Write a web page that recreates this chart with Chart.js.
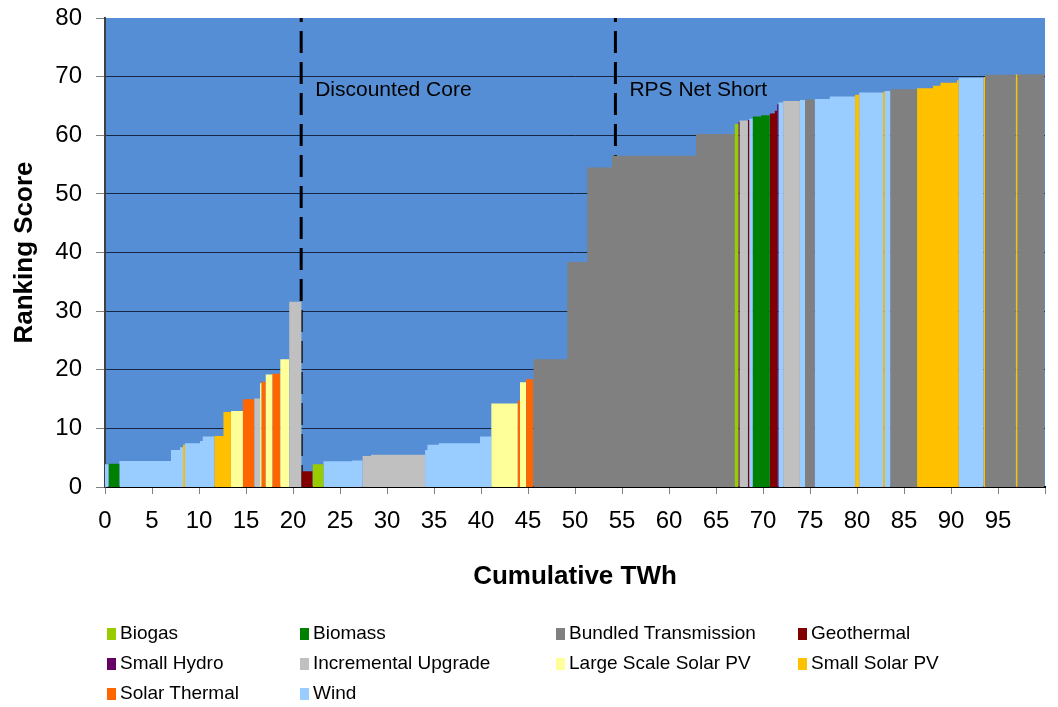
<!DOCTYPE html>
<html>
<head>
<meta charset="utf-8">
<script src="https://cdn.jsdelivr.net/npm/chart.js@4/dist/chart.umd.min.js"></script>
<style>
  body { margin: 0; background: #fff; font-family: "Liberation Sans", Arial, sans-serif; }
  #wrap { position: relative; width: 1058px; height: 707px; }
  #legend { position: absolute; left: 0; top: 0; width: 1058px; height: 707px; pointer-events: none; }
  .item { position: absolute; font-size: 19px; color: #000; white-space: nowrap; line-height: 20px; }
  .item span { display: inline-block; width: 9px; height: 12px; margin-right: 4px; vertical-align: -1px; }
</style>
</head>
<body>
<div id="wrap">
  <canvas id="chart" width="1058" height="707"></canvas>
  <div id="legend"></div>
</div>
<script>
// resource types, legend order
const types = ["Biogas", "Biomass", "Bundled Transmission", "Geothermal", "Small Hydro",
  "Incremental Upgrade", "Large Scale Solar PV", "Small Solar PV", "Solar Thermal", "Wind"];
const typeColors = ["#99cc00", "#008000", "#808080", "#800000", "#660066",
  "#c0c0c0", "#ffff99", "#ffc000", "#ff6600", "#99ccff"];

// supply curve: cumulative TWh at the end of each block, its ranking score and type
const segEnd = [0.38, 1.53, 7.02, 7.98, 8.3, 8.5, 10.1, 10.4, 11.65, 12.6,
  13.4, 14.67, 15.87, 16.5, 16.64, 17.1, 17.8, 18.65, 19.6, 20.9,
  22.08, 23.24, 26.3, 27.4, 28.3, 34.05, 34.3, 35.5, 39.9, 41.1,
  43.9, 44.15, 44.8, 45.57, 49.18, 51.3, 53.93, 62.87, 67.0, 67.4,
  67.5, 68.4, 68.53, 68.92, 69.8, 70.73, 71.26, 71.5, 71.66, 72.15,
  73.93, 74.47, 75.5, 77.1, 79.8, 80.23, 82.78, 82.96, 83.56, 86.39,
  88.09, 88.88, 90.64, 90.82, 93.48, 93.62, 96.88, 97.1, 99.94];
const segScore = [3.9, 3.95, 4.43, 6.3, 6.8, 7.2, 7.45, 7.85, 8.6, 8.7,
  12.8, 12.96, 14.96, 15.1, 17.7, 17.97, 19.2, 19.3, 21.8, 31.6,
  2.7, 3.9, 4.4, 4.5, 5.3, 5.5, 6.3, 7.2, 7.45, 8.6,
  14.25, 14.7, 17.85, 18.4, 21.8, 38.4, 54.5, 56.5, 60.2, 61.9,
  62.3, 62.5, 62.6, 62.8, 63.2, 63.4, 63.7, 64.2, 65.3, 65.6,
  65.85, 66.0, 66.1, 66.2, 66.6, 66.9, 67.3, 67.4, 67.55, 67.85,
  68.0, 68.45, 68.97, 69.4, 69.8, 69.9, 70.3, 70.35, 70.4];
const segType = ["Wind", "Biomass", "Wind", "Wind", "Wind", "Small Solar PV", "Wind", "Wind", "Wind", "Small Solar PV",
  "Small Solar PV", "Large Scale Solar PV", "Solar Thermal", "Incremental Upgrade", "Large Scale Solar PV", "Solar Thermal", "Large Scale Solar PV", "Solar Thermal", "Large Scale Solar PV", "Incremental Upgrade",
  "Geothermal", "Biogas", "Wind", "Wind", "Incremental Upgrade", "Incremental Upgrade", "Wind", "Wind", "Wind", "Wind",
  "Large Scale Solar PV", "Solar Thermal", "Large Scale Solar PV", "Solar Thermal", "Bundled Transmission", "Bundled Transmission", "Bundled Transmission", "Bundled Transmission", "Bundled Transmission", "Biogas",
  "Geothermal", "Incremental Upgrade", "Geothermal", "Wind", "Biomass", "Biomass", "Geothermal", "Geothermal", "Small Hydro", "Wind",
  "Incremental Upgrade", "Wind", "Bundled Transmission", "Wind", "Wind", "Small Solar PV", "Wind", "Small Solar PV", "Wind", "Bundled Transmission",
  "Small Solar PV", "Small Solar PV", "Small Solar PV", "Small Solar PV", "Wind", "Small Solar PV", "Bundled Transmission", "Small Solar PV", "Bundled Transmission"];

// vertical cut-off markers
const cutoffs = [20.87, 54.3];
const cutoffLabels = ["Discounted Core", "RPS Net Short"];

const FONT = '"Liberation Sans", Arial, sans-serif';

// one filled step outline per resource type
const datasets = types.map((t, ti) => {
  const pts = [];
  segEnd.forEach((e, i) => {
    if (segType[i] !== t) return;
    const s = i === 0 ? 0 : segEnd[i - 1];
    pts.push({ x: s, y: 0 }, { x: s, y: segScore[i] }, { x: e, y: segScore[i] }, { x: e, y: 0 });
  });
  return {
    label: t,
    data: pts,
    borderWidth: 0,
    borderColor: typeColors[ti],
    backgroundColor: typeColors[ti],
    fill: 'origin',
    pointRadius: 0,
    tension: 0
  };
});

cutoffs.forEach((c, i) => {
  datasets.push({
    label: cutoffLabels[i],
    data: [{ x: c, y: 0 }, { x: c, y: 80 }],
    borderColor: '#000',
    borderWidth: 3,
    borderDash: [22, 9],
    fill: false,
    pointRadius: 0
  });
});

const plotBg = {
  id: 'plotBg',
  beforeDraw(chart) {
    const a = chart.chartArea, ctx = chart.ctx;
    ctx.save();
    ctx.fillStyle = '#558ed5';
    ctx.fillRect(a.left, a.top, a.right - a.left, a.bottom - a.top);
    ctx.restore();
  }
};

const cutoffText = {
  id: 'cutoffText',
  afterDatasetsDraw(chart) {
    const ctx = chart.ctx, xs = chart.scales.x, a = chart.chartArea;
    ctx.save();
    ctx.font = '21px ' + FONT;
    ctx.fillStyle = '#000';
    ctx.textBaseline = 'middle';
    cutoffs.forEach((c, i) => {
      ctx.fillText(cutoffLabels[i], xs.getPixelForValue(c) + 14, a.top + 72);
    });
    ctx.restore();
  }
};

new Chart(document.getElementById('chart'), {
  type: 'line',
  data: { datasets: datasets },
  plugins: [plotBg, cutoffText],
  options: {
    responsive: false,
    animation: false,
    layout: { padding: { top: 18, right: 13, bottom: 115, left: 0 } },
    plugins: { legend: { display: false }, tooltip: { enabled: false } },
    scales: {
      x: {
        type: 'linear',
        min: 0,
        max: 100,
        afterFit(s) { s.height = 105; s.paddingLeft = 0; s.paddingRight = 0; },
        ticks: {
          stepSize: 5,
          color: '#000',
          padding: 13,
          maxRotation: 0,
          autoSkip: false,
          font: { family: FONT, size: 24 },
          callback: v => v === 100 ? '' : v
        },
        grid: { drawOnChartArea: false, drawTicks: true, tickLength: 7, tickColor: '#808080' },
        border: { color: '#000', width: 2 },
        title: {
          display: true,
          text: 'Cumulative TWh',
          color: '#000',
          padding: { top: 0, bottom: 0 },
          font: { family: FONT, size: 26, weight: 'bold' }
        }
      },
      y: {
        min: 0,
        max: 80,
        afterFit(s) { s.width = 105; s.paddingTop = 0; s.paddingBottom = 0; },
        ticks: {
          stepSize: 10,
          color: '#000',
          padding: 14,
          font: { family: FONT, size: 24 }
        },
        grid: {
          color: ctx => (ctx.tick.value === 0 || ctx.tick.value === 80) ? 'rgba(0,0,0,0)' : 'rgba(10,20,40,0.85)',
          drawTicks: true,
          tickLength: 9,
          tickColor: '#808080'
        },
        border: { color: '#404040', width: 2 },
        title: {
          display: true,
          text: 'Ranking Score',
          color: '#000',
          padding: { top: 9, bottom: 0 },
          font: { family: FONT, size: 26, weight: 'bold' }
        }
      }
    }
  }
});

// legend laid out in four columns like the original
const legendCols = [107, 300, 556, 798];
const legendRows = [633, 663, 693];
const legendEl = document.getElementById('legend');
types.forEach((t, i) => {
  const d = document.createElement('div');
  d.className = 'item';
  d.style.left = legendCols[i % 4] + 'px';
  d.style.top = (legendRows[Math.floor(i / 4)] - 10) + 'px';
  d.innerHTML = '<span style="background:' + typeColors[i] + '"></span>' + t;
  legendEl.appendChild(d);
});
</script>
</body>
</html>
